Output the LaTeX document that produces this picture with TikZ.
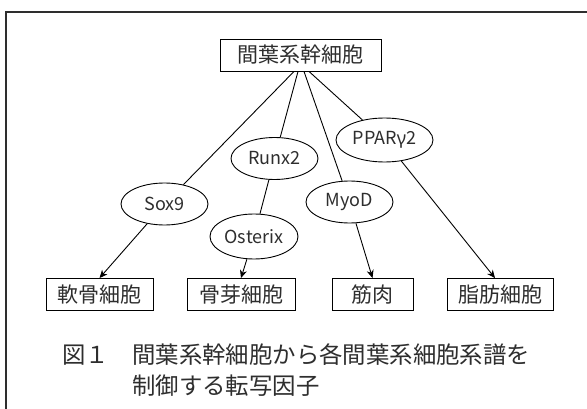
\documentclass[tikz,border=0pt]{standalone}
\usepackage{fontspec}
\setmainfont{Noto Sans CJK JP}
\newfontfamily\grk{Noto Sans}
\usepackage{tikz}
\usetikzlibrary{arrows.meta,shapes.geometric}
\definecolor{ink}{HTML}{2E2E2E}
\tikzset{
  >={Stealth[length=8pt,width=7pt,inset=2.5pt]},
  cell/.style={draw, line width=0.9pt, rectangle, minimum height=32pt, inner sep=0pt, text=ink, font=\fontsize{21}{24}\selectfont},
  tf/.style={draw, line width=0.9pt, ellipse, minimum width=87pt, minimum height=42pt, inner xsep=-4pt, inner ysep=0pt, text=ink, font=\fontsize{18}{20}\selectfont},
  link/.style={line width=0.9pt},
  conn/.style={->, line width=0.9pt},
}

\begin{document}
\begin{tikzpicture}[x=1pt,y=-1pt]
  \useasboundingbox[fill=white] (0,0) rectangle (587,409);
  % frame, cut off at the right and bottom
  \draw[line width=1.4pt, ink] (587,12) -- (6,12) -- (6,409);

  \node[cell, minimum width=161pt] (stem) at (300.5,55) {間葉系幹細胞};

  \node[tf] (sox) at (164.5,204) {Sox9};
  \node[tf] (runx) at (274.5,158.5) {Runx2};
  \node[tf, minimum width=88pt, minimum height=45pt] (osx) at (254,236.5) {Osterix};
  \node[tf] (myod) at (349.5,202) {MyoD};
  \node[tf, minimum width=97pt, minimum height=44pt] (ppar) at (384.5,140) {PPAR{\grk γ}2};

  \node[cell, minimum width=107pt] (cart) at (99.5,294.5) {軟骨細胞};
  \node[cell, minimum width=108pt] (bone) at (241,294.5) {骨芽細胞};
  \node[cell, minimum width=81pt] (musc) at (372.5,294.5) {筋肉};
  \node[cell, minimum width=106pt] (fat) at (500,294.5) {脂肪細胞};

  \draw[link] ([xshift=-6.5pt]stem.south) -- (sox);
  \draw[link] ([xshift=-2.5pt]stem.south) -- (runx);
  \draw[link] ([xshift=3.5pt]stem.south) -- (myod);
  \draw[link] ([xshift=8.5pt]stem.south) -- (ppar);
  \draw[link] (runx) -- (osx);

  \draw[conn] (sox) -- (cart.north);
  \draw[conn] (osx) -- (bone.north);
  \draw[conn] (myod) -- (musc.north);
  \draw[conn] (ppar) -- ([xshift=-5pt]fat.north);

  \node[anchor=north west, align=left, inner sep=0pt, text=ink,
    font=\fontsize{23.4}{31}\selectfont] (cap) at (62,343)
    {図１　間葉系幹細胞から各間葉系細胞系譜を\\\hphantom{図１　}制御する転写因子};
\end{tikzpicture}
\end{document}
